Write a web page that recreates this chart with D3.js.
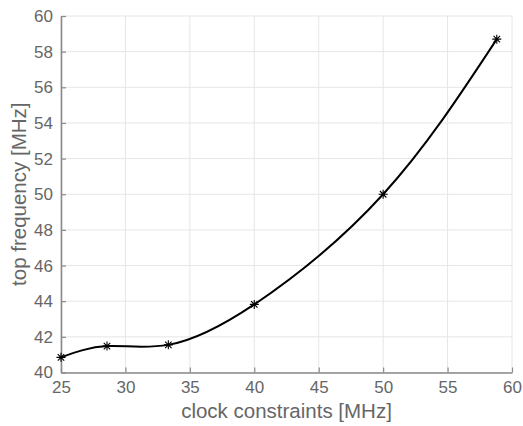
<!DOCTYPE html>
<html>
<head>
<meta charset="utf-8">
<script src="https://d3js.org/d3.v7.min.js"></script>
<style>
  body { margin: 0; background: #fff; }
  text { font-family: "Liberation Sans", Arial, Helvetica, sans-serif; }
</style>
</head>
<body>
<script>
// clock constraint (MHz) vs achieved top frequency (MHz)
var clockMHz = [25, 28.57, 33.33, 40, 50, 58.82];
var topMHz   = [40.85, 41.48, 41.55, 43.82, 50.0, 58.7];
var xTicks = [25, 30, 35, 40, 45, 50, 55, 60];
var yTicks = [40, 42, 44, 46, 48, 50, 52, 54, 56, 58, 60];

var width = 523,
    height = 426,
    margin = {top: 16, right: 11, bottom: 53.5, left: 61};

var points = clockMHz.map(function(c, i) { return {x: c, y: topMHz[i]}; });

var x = d3.scaleLinear().domain([25, 60])
    .range([margin.left, width - margin.right]);
var y = d3.scaleLinear().domain([40, 60])
    .range([height - margin.bottom, margin.top]);

var svg = d3.select("body").append("svg")
    .attr("width", width)
    .attr("height", height);

var axisColor = "#8a8a8a",
    textColor = "#666666",
    gridColor = "#e6e6e6";

// grid
svg.append("g").selectAll("line")
    .data(xTicks)
  .enter().append("line")
    .attr("x1", function(d) { return x(d); })
    .attr("x2", function(d) { return x(d); })
    .attr("y1", y(40))
    .attr("y2", y(60))
    .attr("stroke", gridColor)
    .attr("stroke-width", 1);

svg.append("g").selectAll("line")
    .data(yTicks)
  .enter().append("line")
    .attr("x1", x(25))
    .attr("x2", x(60))
    .attr("y1", function(d) { return y(d); })
    .attr("y2", function(d) { return y(d); })
    .attr("stroke", gridColor)
    .attr("stroke-width", 1);

// axes, ticks pointing inward
var xAxis = svg.append("g")
    .attr("transform", "translate(0," + y(40) + ")")
    .call(d3.axisBottom(x).tickValues(xTicks).tickSizeInner(-5).tickSizeOuter(0).tickPadding(8.5));

var yAxis = svg.append("g")
    .attr("transform", "translate(" + x(25) + ",0)")
    .call(d3.axisLeft(y).tickValues(yTicks).tickSizeInner(-5).tickSizeOuter(0).tickPadding(8));

[xAxis, yAxis].forEach(function(g) {
  g.select(".domain").attr("stroke", axisColor).attr("stroke-width", 1.6);
  g.selectAll(".tick line").attr("stroke", axisColor).attr("stroke-width", 1.2);
  g.selectAll(".tick text")
    .attr("fill", textColor)
    .style("font-size", "17px")
    .style("font-family", "'Liberation Sans', Arial, sans-serif");
});

// axis labels
svg.append("text")
    .attr("x", (x(25) + x(60)) / 2)
    .attr("y", 418)
    .attr("text-anchor", "middle")
    .attr("fill", textColor)
    .style("font-size", "20.5px")
    .text("clock constraints [MHz]");

svg.append("text")
    .attr("transform", "translate(26," + (y(40) + y(60)) / 2 + ") rotate(-90)")
    .attr("text-anchor", "middle")
    .attr("fill", textColor)
    .style("font-size", "20.5px")
    .text("top frequency [MHz]");

// smooth curve through the measurements
var line = d3.line()
    .x(function(d) { return x(d.x); })
    .y(function(d) { return y(d.y); })
    .curve(d3.curveNatural);

svg.append("path")
    .datum(points)
    .attr("d", line)
    .attr("fill", "none")
    .attr("stroke", "#000")
    .attr("stroke-width", 2);

// asterisk markers (plus + cross)
var r = 4.5;
var marker = "M" + (-r) + ",0L" + r + ",0" +
             "M0," + (-r) + "L0," + r +
             "M" + (-r * 0.72) + "," + (-r * 0.72) + "L" + (r * 0.72) + "," + (r * 0.72) +
             "M" + (-r * 0.72) + "," + (r * 0.72) + "L" + (r * 0.72) + "," + (-r * 0.72);

svg.append("g").selectAll("path")
    .data(points)
  .enter().append("path")
    .attr("transform", function(d) { return "translate(" + x(d.x) + "," + y(d.y) + ")"; })
    .attr("d", marker)
    .attr("fill", "none")
    .attr("stroke", "#000")
    .attr("stroke-width", 1.1);
</script>
</body>
</html>
